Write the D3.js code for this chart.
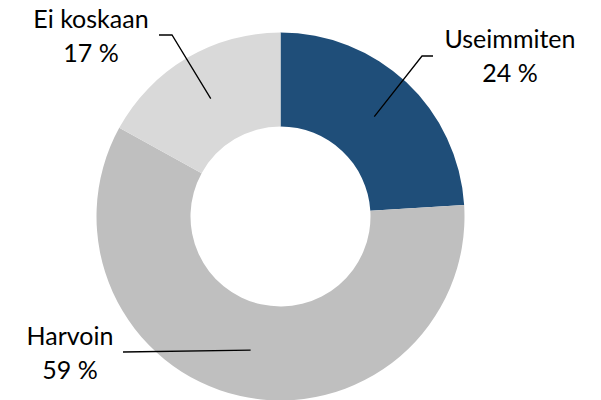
<!DOCTYPE html>
<html>
<head>
<meta charset="utf-8">
<script src="https://cdn.jsdelivr.net/npm/d3@7"></script>
<style>
  body { margin: 0; background: #fff; }
  svg text { font-family: Lato, "Open Sans", sans-serif; fill: #000; }
</style>
</head>
<body>
<div id="chart"></div>
<script>
var categories = ["Useimmiten", "Harvoin", "Ei koskaan"];
var values = [24, 59, 17];
var colors = ["#1F4E79", "#BFBFBF", "#D9D9D9"];

// label anchor spots (text center x, first baseline y, leader bend points)
var labelPos = [
    {x: 510, y: 48, bend: [[422, 56], [433, 56]]},
    {x: 70, y: 345, bend: [[123, 352]]},
    {x: 91, y: 28, bend: [[172, 35], [159, 35]]}
];

var WIDTH = 601, HEIGHT = 400;
var cx = 280.5, cy = 216.5, outerR = 184, innerR = 90;

var svg = d3.select("#chart").append("svg")
    .attr("width", WIDTH)
    .attr("height", HEIGHT);

var pie = d3.pie().sort(null).value(function (d) { return d; });
var arc = d3.arc().innerRadius(innerR).outerRadius(outerR);

var data = pie(values);

var g = svg.append("g").attr("transform", "translate(" + cx + "," + cy + ")");

g.selectAll("path")
    .data(data)
    .enter().append("path")
    .attr("d", arc)
    .attr("fill", function (d, i) { return colors[i]; });

// leader lines
var line = d3.line();
svg.selectAll("path.leader")
    .data(data)
    .enter().append("path")
    .attr("class", "leader")
    .attr("fill", "none")
    .attr("stroke", "#000")
    .attr("stroke-width", 1.3)
    .attr("d", function (d, i) {
        var c = arc.centroid(d);
        var pts = [[cx + c[0], cy + c[1]]].concat(labelPos[i].bend);
        return line(pts);
    });

var labels = svg.selectAll("text.lbl")
    .data(data)
    .enter().append("text")
    .attr("class", "lbl")
    .attr("text-anchor", "middle")
    .style("font-size", "25px");

labels.append("tspan")
    .attr("x", function (d, i) { return labelPos[i].x; })
    .attr("y", function (d, i) { return labelPos[i].y; })
    .text(function (d, i) { return categories[i]; });

labels.append("tspan")
    .attr("x", function (d, i) { return labelPos[i].x; })
    .attr("y", function (d, i) { return labelPos[i].y + 34; })
    .text(function (d) { return d.value + " %"; });
</script>
</body>
</html>
